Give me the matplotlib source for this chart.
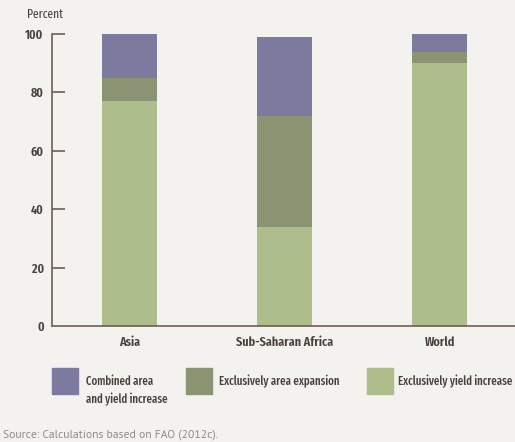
import matplotlib
matplotlib.use("Agg")
import matplotlib.pyplot as plt
from matplotlib.patches import Rectangle
import numpy as np

regions = ["Asia", "Sub-Saharan Africa", "World"]
yield_increase = [77, 34, 90]
area_expansion = [8, 38, 4]
combined = [15, 27, 6]
legend_labels = ["Combined area\nand yield increase", "Exclusively area expansion", "Exclusively yield increase"]
yticks = [0, 20, 40, 60, 80, 100]

bg = "#f3f2ee"
col_comb = "#7c7a9e"
col_area = "#8a9473"
col_yield = "#adbd8b"
axis_col = "#6e5c57"
text_col = "#4a3f3d"

plt.rcParams["font.family"] = ["Fira Sans Extra Condensed", "DejaVu Sans"]

fig = plt.figure(figsize=(5.15, 4.42), dpi=100, facecolor=bg)
ax = fig.add_axes([52 / 515, 1 - 326 / 442, 1 - 52 / 515, (326 - 34) / 442])
ax.set_facecolor(bg)

x = np.arange(len(regions))
w = 0.355
y = np.array(yield_increase)
a = np.array(area_expansion)
c = np.array(combined)
ax.bar(x, y, w, color=col_yield)
ax.bar(x, a, w, bottom=y, color=col_area)
ax.bar(x, c, w, bottom=y + a, color=col_comb)

ax.set_xlim(-0.503, 2.484)
ax.set_ylim(0, 100)
ax.set_yticks(yticks)
ax.set_yticklabels([str(t) for t in yticks], fontsize=9.5, fontweight="semibold", color=text_col)
ax.set_xticks(x)
ax.set_xticklabels(regions, fontsize=9.6, fontweight="semibold", color=text_col)
ax.tick_params(axis="y", direction="in", length=9.5, width=1.2, color=axis_col, pad=6)
ax.tick_params(axis="x", length=0, pad=7)
for s in ["top", "right"]:
    ax.spines[s].set_visible(False)
for s in ["left", "bottom"]:
    ax.spines[s].set_color(axis_col)
    ax.spines[s].set_linewidth(1.2)
ax.yaxis.get_major_ticks()[0].tick1line.set_visible(False)

fig.text(27 / 515, 1 - 14 / 442, "Percent", fontsize=9, color=text_col, va="center")

# legend
colors = [col_comb, col_area, col_yield]
box_x = [52, 186, 367]
text_x = [86, 219, 398]
for bx, tx, col, lab in zip(box_x, text_x, colors, legend_labels):
    fig.add_artist(Rectangle((bx / 515, 1 - 394 / 442), 26 / 515, 26 / 442,
                             transform=fig.transFigure, color=col))
    fig.text(tx / 515, 1 - 375 / 442, lab, fontsize=8.5, fontweight="medium",
             color=text_col, va="top", linespacing=1.5)

fig.text(3 / 515, 1 - 435 / 442, "Source: Calculations based on FAO (2012c).",
         fontsize=8.4, color="#8e8c8a", va="center",
         family=["PT Sans", "DejaVu Sans"])

fig.savefig("out.png", dpi=100, facecolor=bg)
